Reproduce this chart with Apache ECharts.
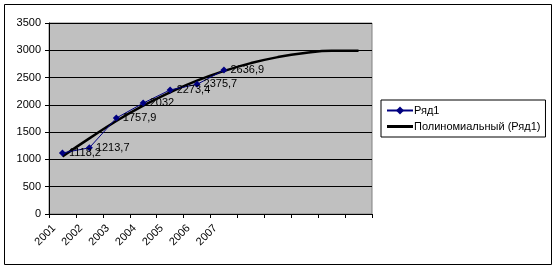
<!DOCTYPE html>
<html><head><meta charset="utf-8">
<script src="https://cdn.jsdelivr.net/npm/echarts@6/dist/echarts.min.js"></script>
<style>html,body{margin:0;padding:0;background:#fff}#c{width:558px;height:270px}</style>
</head><body><div id="c"></div>
<script>
var categories = ['2001','2002','2003','2004','2005','2006','2007','','','','',''];
var seriesValues = [1118.2, 1213.7, 1757.9, 2032, 2273.4, 2375.7, 2636.9];
var trendValues = [1055, 1385, 1705, 1985, 2230, 2445, 2620, 2765, 2875, 2950, 2990, 2990];
var yTicks = [0, 500, 1000, 1500, 2000, 2500, 3000, 3500];
var seriesName = 'Ряд1';
var trendName = 'Полиномиальный (Ряд1)';

var chart = echarts.init(document.getElementById('c'), null, {renderer: 'canvas'});
var font = 'Liberation Sans, Arial, sans-serif';
chart.setOption({
  animation: false,
  backgroundColor: '#fff',
  textStyle: {fontFamily: font},
  graphic: [{type: 'rect', shape: {x: 4.5, y: 4.5, width: 547, height: 260}, style: {fill: 'none', stroke: '#000', lineWidth: 1}, z: -1}],
  grid: {left: 49, right: 186, top: 23, bottom: 56, show: true, backgroundColor: '#C0C0C0', borderColor: '#808080', borderWidth: 1},
  legend: {
    orient: 'vertical', left: 381, top: 100, padding: [5, 5, 5, 5],
    borderColor: '#000', borderWidth: 1, borderRadius: 0, itemGap: 5,
    itemWidth: 26, itemHeight: 10,
    textStyle: {fontFamily: font, fontSize: 11, color: '#000', padding: [0, 0, 0, -4]},
    data: [
      {name: seriesName},
      {name: trendName, icon: 'path://M0,0 L26,0 L26,3 L0,3 Z', itemStyle: {color: '#000', borderWidth: 0}}
    ]
  },
  xAxis: {
    type: 'category', data: categories, boundaryGap: true,
    axisLine: {lineStyle: {color: '#000'}},
    axisTick: {show: true, length: 4, lineStyle: {color: '#000'}, interval: 0},
    axisLabel: {interval: 0, rotate: 45, color: '#000', fontSize: 11, fontFamily: font, margin: 4, padding: [0, 12, 0, 0]},
    splitLine: {show: false}
  },
  yAxis: {
    type: 'value', min: 0, max: 3500, interval: 500,
    axisLine: {show: true, lineStyle: {color: '#000'}},
    axisTick: {show: true, length: 4, lineStyle: {color: '#000'}},
    axisLabel: {color: '#000', fontSize: 11, fontFamily: font, margin: 8,
      formatter: function (v) { return yTicks.indexOf(v) >= 0 ? String(v) : ''; }},
    splitLine: {show: true, lineStyle: {color: '#000', width: 1}}
  },
  series: [
    {
      name: trendName, type: 'line', data: trendValues, smooth: true, symbol: 'none',
      lineStyle: {color: '#000', width: 2.5}, itemStyle: {color: '#000'}, z: 3
    },
    {
      name: seriesName, type: 'line', data: seriesValues, symbol: 'diamond', symbolSize: 7,
      lineStyle: {color: '#000080', width: 1}, itemStyle: {color: '#000080'}, z: 4,
      label: {show: true, position: 'right', distance: 3, color: '#000', fontSize: 11, fontFamily: font,
        formatter: function (p) { return String(p.value).replace('.', ','); }}
    }
  ]
});
</script></body></html>
